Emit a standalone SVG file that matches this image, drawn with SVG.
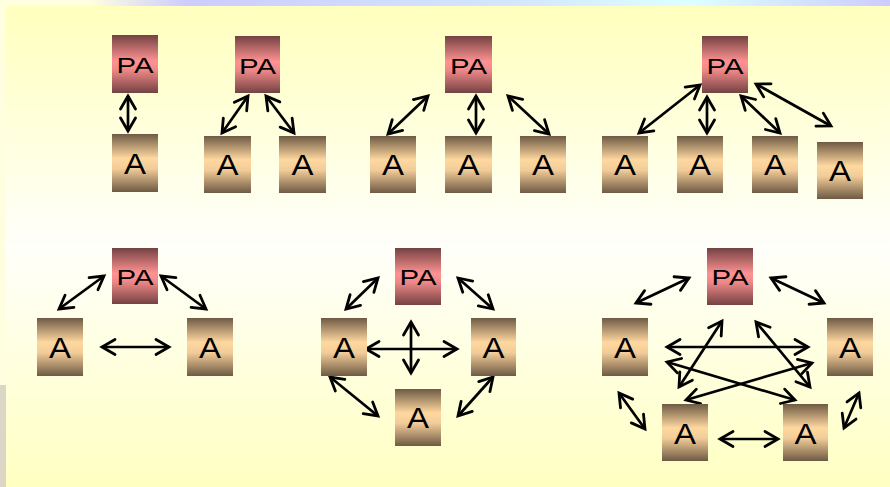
<svg xmlns="http://www.w3.org/2000/svg" width="890" height="487" viewBox="0 0 890 487">
  <defs>
    <linearGradient id="bg" x1="0" y1="0" x2="0" y2="1">
      <stop offset="0" stop-color="#FFFFBE"/>
      <stop offset="0.5" stop-color="#FFFFFB"/>
      <stop offset="1" stop-color="#FFFFC2"/>
    </linearGradient>
    <linearGradient id="strip" x1="0" y1="0" x2="1" y2="0">
      <stop offset="0" stop-color="#FFFFE0"/>
      <stop offset="0.12" stop-color="#CCCCFF"/>
      <stop offset="0.55" stop-color="#D4E8FF"/>
      <stop offset="0.75" stop-color="#DDFFFF"/>
      <stop offset="1" stop-color="#CCCCFF"/>
    </linearGradient>
    <linearGradient id="gPA" x1="0" y1="0" x2="0" y2="1">
      <stop offset="0" stop-color="#744242"/>
      <stop offset="0.45" stop-color="#FF9292"/>
      <stop offset="0.6" stop-color="#F08888"/>
      <stop offset="1" stop-color="#744242"/>
    </linearGradient>
    <linearGradient id="gA" x1="0" y1="0" x2="0" y2="1">
      <stop offset="0" stop-color="#6E5A44"/>
      <stop offset="0.42" stop-color="#FFD8A0"/>
      <stop offset="0.6" stop-color="#F2CC98"/>
      <stop offset="1" stop-color="#6E5A44"/>
    </linearGradient>
    <marker id="head" viewBox="-16 -10 18 20" refX="0" refY="0" markerWidth="18" markerHeight="20" markerUnits="userSpaceOnUse" orient="auto-start-reverse" overflow="visible">
      <path d="M-13,-7.5 L0,0 L-13,7.5" fill="none" stroke="#000" stroke-width="2.8" stroke-linecap="round" stroke-linejoin="miter"/>
    </marker>
  </defs>
  <style>
    .pa { fill: url(#gPA); }
    .a { fill: url(#gA); }
    .tpa { font-family: "Liberation Sans", Arial, sans-serif; font-size: 22px; fill: #000; text-anchor: middle; }
    .ta { font-family: "Liberation Sans", Arial, sans-serif; font-size: 29px; fill: #000; text-anchor: middle; }
    .link { stroke: #000; stroke-width: 2.7; fill: none; marker-start: url(#head); marker-end: url(#head); }
  </style>

  <!-- backdrop -->
  <rect x="0" y="0" width="890" height="487" fill="#FFFFE0"/>
  <rect x="90" y="0" width="800" height="6" fill="url(#strip)"/>
  <rect x="0" y="385" width="6" height="102" fill="#DCD6C6"/>
  <rect x="6" y="6" width="884" height="481" fill="url(#bg)"/>

  <!-- connectors -->
  <g id="connectors">
    <!-- set 1 -->
    <line class="link" x1="128" y1="96" x2="128" y2="131"/>
    <!-- set 2 -->
    <line class="link" x1="222" y1="133" x2="248" y2="96"/>
    <line class="link" x1="266" y1="96" x2="294" y2="133"/>
    <!-- set 3 -->
    <line class="link" x1="388" y1="134" x2="428" y2="96"/>
    <line class="link" x1="476" y1="96" x2="476" y2="133"/>
    <line class="link" x1="508" y1="96" x2="549" y2="134"/>
    <!-- set 4 -->
    <line class="link" x1="639" y1="133" x2="700" y2="85"/>
    <line class="link" x1="707" y1="97" x2="707" y2="133"/>
    <line class="link" x1="741" y1="96" x2="780" y2="133"/>
    <line class="link" x1="756" y1="84" x2="831" y2="126"/>
    <!-- set 5 -->
    <line class="link" x1="59" y1="309" x2="104" y2="276"/>
    <line class="link" x1="161" y1="276" x2="206" y2="309"/>
    <line class="link" x1="102" y1="347" x2="169" y2="347"/>
    <!-- set 6 -->
    <line class="link" x1="346" y1="309" x2="378" y2="278"/>
    <line class="link" x1="458" y1="278" x2="493" y2="309"/>
    <line class="link" x1="366" y1="349" x2="457" y2="349"/>
    <line class="link" x1="411" y1="322" x2="411" y2="373"/>
    <line class="link" x1="330" y1="377" x2="378" y2="416"/>
    <line class="link" x1="458" y1="416" x2="493" y2="377"/>
    <!-- set 7 -->
    <line class="link" x1="636" y1="303" x2="689" y2="278"/>
    <line class="link" x1="771" y1="278" x2="824" y2="303"/>
    <line class="link" x1="667" y1="347" x2="808" y2="347"/>
    <line class="link" x1="722" y1="321" x2="679" y2="387"/>
    <line class="link" x1="756" y1="322" x2="810" y2="387"/>
    <line class="link" x1="667" y1="362" x2="795" y2="400"/>
    <line class="link" x1="812" y1="363" x2="686" y2="400"/>
    <line class="link" x1="619" y1="393" x2="645" y2="429"/>
    <line class="link" x1="859" y1="393" x2="844" y2="428"/>
    <line class="link" x1="720" y1="439" x2="778" y2="439"/>
  </g>

  <!-- set 1 -->
  <g id="s1-pa"><rect class="pa" x="112" y="35" width="46" height="58"/><text class="tpa" x="135" y="73" textLength="37" lengthAdjust="spacingAndGlyphs">PA</text></g>
  <g id="s1-a1"><rect class="a" x="112" y="134" width="46" height="58"/><text class="ta" x="135" y="174" textLength="22" lengthAdjust="spacingAndGlyphs">A</text></g>

  <!-- set 2 -->
  <g id="s2-pa"><rect class="pa" x="235" y="36" width="45" height="57"/><text class="tpa" x="257.5" y="74" textLength="37" lengthAdjust="spacingAndGlyphs">PA</text></g>
  <g id="s2-a1"><rect class="a" x="204" y="136" width="47" height="57"/><text class="ta" x="227.5" y="175" textLength="22" lengthAdjust="spacingAndGlyphs">A</text></g>
  <g id="s2-a2"><rect class="a" x="279" y="136" width="47" height="57"/><text class="ta" x="302.5" y="175" textLength="22" lengthAdjust="spacingAndGlyphs">A</text></g>

  <!-- set 3 -->
  <g id="s3-pa"><rect class="pa" x="445" y="36" width="47" height="57"/><text class="tpa" x="468.5" y="74" textLength="37" lengthAdjust="spacingAndGlyphs">PA</text></g>
  <g id="s3-a1"><rect class="a" x="370" y="136" width="46" height="57"/><text class="ta" x="393" y="175" textLength="22" lengthAdjust="spacingAndGlyphs">A</text></g>
  <g id="s3-a2"><rect class="a" x="445" y="136" width="47" height="57"/><text class="ta" x="468.5" y="175" textLength="22" lengthAdjust="spacingAndGlyphs">A</text></g>
  <g id="s3-a3"><rect class="a" x="520" y="136" width="46" height="57"/><text class="ta" x="543" y="175" textLength="22" lengthAdjust="spacingAndGlyphs">A</text></g>

  <!-- set 4 -->
  <g id="s4-pa"><rect class="pa" x="702" y="36" width="46" height="57"/><text class="tpa" x="725" y="74" textLength="37" lengthAdjust="spacingAndGlyphs">PA</text></g>
  <g id="s4-a1"><rect class="a" x="602" y="136" width="46" height="57"/><text class="ta" x="625" y="175" textLength="22" lengthAdjust="spacingAndGlyphs">A</text></g>
  <g id="s4-a2"><rect class="a" x="677" y="136" width="46" height="57"/><text class="ta" x="700" y="175" textLength="22" lengthAdjust="spacingAndGlyphs">A</text></g>
  <g id="s4-a3"><rect class="a" x="752" y="136" width="46" height="57"/><text class="ta" x="775" y="175" textLength="22" lengthAdjust="spacingAndGlyphs">A</text></g>
  <g id="s4-a4"><rect class="a" x="817" y="142" width="46" height="57"/><text class="ta" x="840" y="181" textLength="22" lengthAdjust="spacingAndGlyphs">A</text></g>

  <!-- set 5 -->
  <g id="s5-pa"><rect class="pa" x="112" y="248" width="46" height="56"/><text class="tpa" x="135" y="285" textLength="37" lengthAdjust="spacingAndGlyphs">PA</text></g>
  <g id="s5-a1"><rect class="a" x="37" y="318" width="46" height="58"/><text class="ta" x="60" y="358" textLength="22" lengthAdjust="spacingAndGlyphs">A</text></g>
  <g id="s5-a2"><rect class="a" x="187" y="318" width="46" height="58"/><text class="ta" x="210" y="358" textLength="22" lengthAdjust="spacingAndGlyphs">A</text></g>

  <!-- set 6 -->
  <g id="s6-pa"><rect class="pa" x="395" y="248" width="46" height="57"/><text class="tpa" x="418" y="285" textLength="37" lengthAdjust="spacingAndGlyphs">PA</text></g>
  <g id="s6-a1"><rect class="a" x="321" y="318" width="46" height="58"/><text class="ta" x="344" y="358" textLength="22" lengthAdjust="spacingAndGlyphs">A</text></g>
  <g id="s6-a2"><rect class="a" x="471" y="318" width="45" height="58"/><text class="ta" x="493.5" y="358" textLength="22" lengthAdjust="spacingAndGlyphs">A</text></g>
  <g id="s6-a3"><rect class="a" x="395" y="389" width="46" height="57"/><text class="ta" x="418" y="428" textLength="22" lengthAdjust="spacingAndGlyphs">A</text></g>

  <!-- set 7 -->
  <g id="s7-pa"><rect class="pa" x="707" y="248" width="46" height="57"/><text class="tpa" x="730" y="285" textLength="37" lengthAdjust="spacingAndGlyphs">PA</text></g>
  <g id="s7-a1"><rect class="a" x="602" y="318" width="46" height="58"/><text class="ta" x="625" y="358" textLength="22" lengthAdjust="spacingAndGlyphs">A</text></g>
  <g id="s7-a2"><rect class="a" x="827" y="318" width="46" height="58"/><text class="ta" x="850" y="358" textLength="22" lengthAdjust="spacingAndGlyphs">A</text></g>
  <g id="s7-a3"><rect class="a" x="662" y="404" width="46" height="57"/><text class="ta" x="685" y="444" textLength="22" lengthAdjust="spacingAndGlyphs">A</text></g>
  <g id="s7-a4"><rect class="a" x="783" y="404" width="45" height="57"/><text class="ta" x="805.5" y="444" textLength="22" lengthAdjust="spacingAndGlyphs">A</text></g>
</svg>
